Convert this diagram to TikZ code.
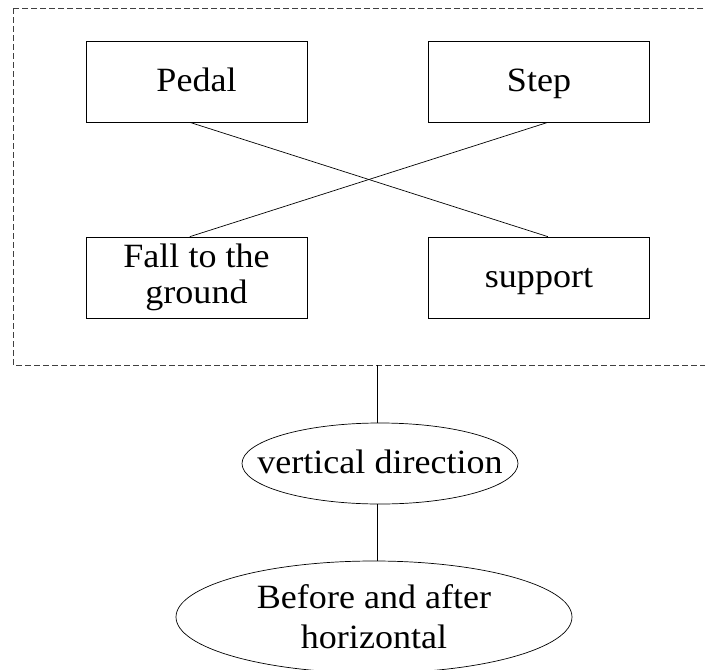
\documentclass[tikz,border=0pt]{standalone}
\usepackage{fontspec}
\setmainfont[FakeStretch=1.06]{Liberation Serif}
\usetikzlibrary{shapes.geometric, calc}

\tikzset{
    stage/.style={draw, line width=0.7pt, minimum width=221pt, minimum height=81pt, inner sep=0pt, align=center, font=\fontsize{34}{36}\selectfont},
    oval/.style={draw, ellipse, line width=0.7pt, inner sep=0pt, align=center, font=\fontsize{34}{40}\selectfont},
    oneline/.style={text height=24pt, text depth=5pt},
    link/.style={line width=0.7pt},
}

\begin{document}
\begin{tikzpicture}[x=1pt, y=1pt]
            \useasboundingbox (0,0) rectangle (705,-670);
            % dashed frame round the four actions
            \draw[line width=0.7pt, black!75, dash pattern=on 6pt off 3pt] (13,-8) rectangle (730,-365);
            \coordinate (framebot) at (377,-365);
            \node[stage, oneline] (pedal) at (196.5,-81.5) {Pedal};
            \node[stage, oneline] (step) at (539,-81.5) {Step};
            \node[stage] (fall) at (196.5,-277.5) {Fall to the\\ground};
            \node[stage, oneline] (support) at (539,-277.5) {support};
            \draw[link] ($(pedal.south west)!0.47!(pedal.south east)$) -- ($(support.north west)!0.54!(support.north east)$);
            \draw[link] ($(step.south west)!0.54!(step.south east)$) -- ($(fall.north west)!0.47!(fall.north east)$);
            \node[oval, oneline, inner xsep=-25pt, minimum width=275pt, minimum height=81pt] (vert) at (380,-463.5) {vertical direction};
            \node[oval, minimum width=396pt, minimum height=112pt] (horiz) at (374,-617) {Before and after\\horizontal};
            \draw[link] (framebot) -- (framebot |- vert.north);
            \draw[link] (framebot |- vert.south) -- (framebot |- horiz.north);
        \end{tikzpicture}
\end{document}
